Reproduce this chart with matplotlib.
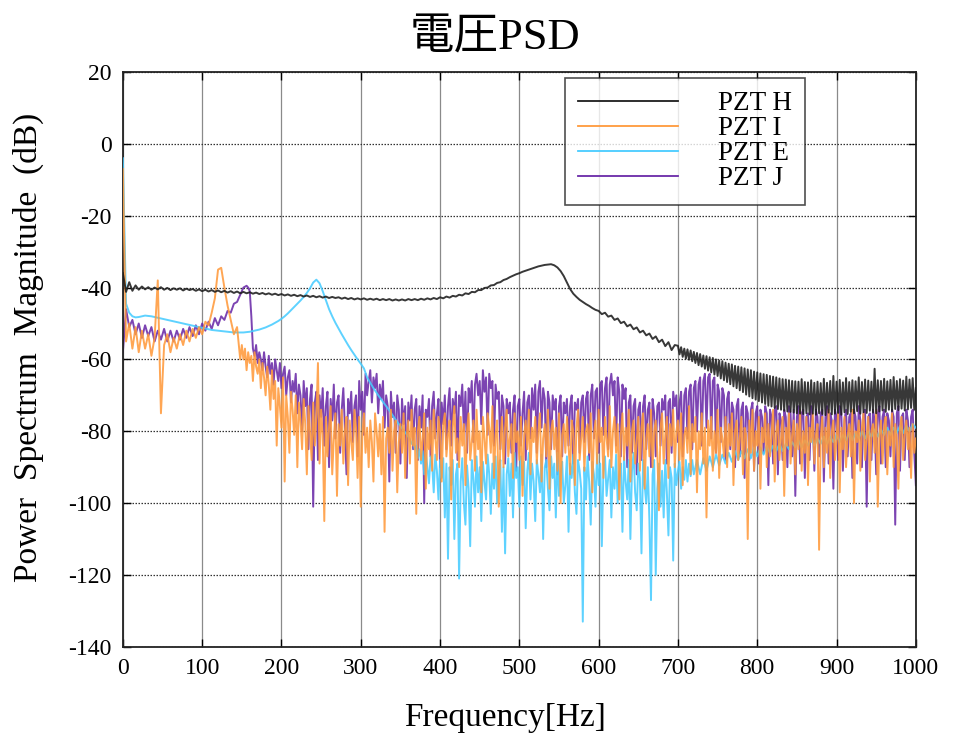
import numpy as np
import matplotlib
matplotlib.use("Agg")
import matplotlib.pyplot as plt

plt.rcParams['font.family'] = ['Liberation Serif', 'Noto Sans CJK JP', 'DejaVu Sans']
plt.rcParams['axes.unicode_minus'] = False

title = "電圧PSD"
xlabel = "Frequency[Hz]"
ylabel = "Power  Spectrum  Magnitude  (dB)"
labels = ["PZT H", "PZT I", "PZT E", "PZT J"]
xticks = [0, 100, 200, 300, 400, 500, 600, 700, 800, 900, 1000]
yticks = [-140, -120, -100, -80, -60, -40, -20, 0, 20]

# ---- PZT H : 0-696 Hz every 4 Hz, then 700-1000 Hz every 2 Hz (dB)
pzt_h_low = [
 -36.0, -41.2, -38.5, -40.9, -39.4, -40.6, -39.7, -40.5, -39.9, -40.6,
 -40.0, -40.5, -39.9, -40.6, -40.1, -40.7, -40.2, -40.6, -40.2, -40.8,
 -40.3, -40.7, -40.4, -40.9, -40.5, -41.0, -40.6, -41.1, -40.7, -41.2,
 -40.8, -41.3, -40.9, -41.4, -41.0, -41.5, -41.1, -41.6, -41.2, -41.6,
 -41.3, -41.7, -41.4, -41.8, -41.5, -41.9, -41.6, -42.0, -41.7, -42.1,
 -41.8, -42.2, -41.9, -42.3, -42.0, -42.4, -42.1, -42.5, -42.2, -42.6,
 -42.3, -42.7, -42.4, -42.8, -42.5, -42.9, -42.6, -42.9, -42.7, -43.1,
 -42.8, -43.2, -42.9, -43.3, -43.0, -43.3, -43.0, -43.4, -43.1, -43.4,
 -43.1, -43.5, -43.2, -43.5, -43.2, -43.6, -43.3, -43.6, -43.3, -43.6,
 -43.2, -43.5, -43.2, -43.5, -43.1, -43.4, -43.0, -43.3, -42.9, -43.2,
 -42.7, -43.0, -42.5, -42.8, -42.3, -42.5, -42.0, -42.2, -41.6, -41.8,
 -41.2, -41.3, -40.7, -40.7, -40.1, -40.0, -39.4, -39.3, -38.7, -38.5,
 -37.9, -37.6, -37.1, -36.7, -36.3, -36.0, -35.6, -35.3, -35.0, -34.7,
 -34.4, -34.1, -33.9, -33.7, -33.6, -33.5, -33.8, -34.4, -35.4, -36.8,
 -38.6, -40.4, -41.7, -42.6, -43.4, -44.0, -44.6, -45.1, -45.7, -46.2,
 -46.5, -47.4, -47.0, -48.1, -47.8, -49.0, -48.6, -49.9, -49.5, -50.8,
 -50.3, -51.6, -51.1, -52.5, -52.0, -53.3, -52.8, -54.3, -53.6, -55.2,
 -54.5, -56.3, -55.2, -57.4, -56.0,
]
pzt_h_high = [
 -56.2, -58.6, -56.6, -59.3, -57.0, -59.8, -57.2, -60.1, -57.5, -60.5,
 -57.9, -61.0, -58.2, -61.6, -58.5, -62.0, -58.9, -62.6, -59.1, -63.1,
 -59.4, -63.6, -59.6, -64.2, -60.0, -64.6, -60.3, -65.3, -60.5, -65.8,
 -60.9, -66.3, -61.2, -66.9, -61.4, -67.5, -61.8, -68.0, -62.0, -68.6,
 -62.2, -69.1, -62.5, -69.8, -62.8, -70.3, -63.0, -70.8, -63.4, -71.2,
 -63.6, -71.6, -63.9, -72.0, -64.1, -72.4, -64.3, -72.9, -64.6, -73.1,
 -64.8, -73.5, -65.0, -73.8, -65.3, -74.0, -65.5, -74.3, -65.6, -74.5,
 -65.8, -74.6, -66.0, -74.8, -66.1, -75.0, -66.2, -75.1, -65.5, -75.2,
 -66.3, -75.0, -66.4, -75.3, -65.8, -75.1, -66.5, -75.4, -66.2, -75.0,
 -66.6, -75.2, -65.4, -75.5, -66.5, -74.8, -66.0, -75.3, -64.6, -75.1,
 -66.2, -74.9, -65.7, -75.4, -66.4, -74.7, -65.2, -75.2, -66.3, -74.6,
 -65.8, -75.0, -66.1, -74.4, -65.0, -75.1, -66.3, -74.7, -65.6, -74.9,
 -65.9, -74.3, -66.2, -74.8, -62.6, -75.0, -65.8, -74.5, -66.0, -74.2,
 -65.4, -74.6, -66.1, -74.0, -65.7, -74.4, -64.9, -73.8, -66.0, -74.1,
 -65.5, -73.7, -65.9, -74.2, -64.8, -73.9, -65.6, -73.5, -65.2, -74.0,
 -68.0,
]

# ---- PZT I : 0-148 Hz every 4 Hz, then 150-1000 Hz every 2 Hz (dB)
pzt_i_low = [
 -7, -55, -50, -57, -51, -58, -52, -57, -53, -59,
 -54, -38, -75, -56, -53, -58, -54, -57, -53, -56,
 -52, -55, -51.5, -54, -51, -53, -49.5, -50.5, -47, -43,
 -35, -34.5, -40, -45, -49, -53, -51, -60,
]
pzt_i_high = [
 -56, -60, -57, -63, -58, -61, -59, -66, -58, -62,
 -64, -60, -68, -61, -65, -70, -62, -67, -74, -63,
 -71, -66, -84, -68, -73, -79, -65, -94, -70, -76,
 -86, -69, -74, -81, -70, -90, -72, -77, -85, -71,
 -78, -92, -73, -80, -88, -72, -84, -76, -61, -89,
 -74, -81, -105, -76, -87, -79, -73, -92, -82, -75,
 -98, -78, -84, -74, -89, -80, -76, -95, -77, -83,
 -88, -74, -79, -93, -76, -101, -81, -75, -86, -79,
 -90, -77, -83, -94, -75, -80, -87, -78, -92, -76,
 -108, -82, -79, -86, -74, -91, -80, -77, -97, -83,
 -78, -86, -75, -93, -81, -77, -89, -74, -84, -79,
 -103, -80, -76, -88, -82, -75, -96, -79, -85, -77,
 -91, -74, -82, -88, -76, -80, -94, -78, -75, -87,
 -81, -77, -99, -79, -73, -86, -82, -90, -76, -84,
 -78, -95, -80, -75, -88, -83, -77, -91, -74, -85,
 -80, -97, -76, -82, -89, -75, -79, -86, -73, -93,
 -81, -77, -101, -84, -76, -90, -79, -74, -87, -82,
 -78, -93, -75, -83, -80, -88, -76, -98, -81, -77,
 -85, -74, -92, -79, -83, -76, -89, -80, -75, -94,
 -82, -78, -87, -74, -96, -80, -77, -85, -79, -91,
 -75, -100, -81, -78, -86, -76, -84, -92, -77, -80,
 -95, -79, -74, -88, -82, -76, -91, -80, -78, -86,
 -75, -97, -81, -77, -89, -74, -83, -79, -93, -76,
 -82, -87, -73, -90, -80, -76, -86, -78, -99, -81,
 -75, -88, -79, -84, -74, -94, -80, -77, -89, -83,
 -76, -91, -79, -75, -96, -82, -78, -87, -74, -90,
 -80, -77, -86, -102, -79, -75, -89, -81, -76, -93,
 -78, -84, -74, -90, -80, -77, -88, -75, -95, -81,
 -79, -86, -73, -92, -78, -83, -76, -97, -80, -85,
 -75, -89, -79, -104, -77, -84, -76, -91, -80, -86,
 -74, -93, -79, -82, -87, -76, -90, -78, -84, -75,
 -95, -80, -77, -88, -82, -76, -92, -79, -81, -110,
 -77, -86, -74, -91, -80, -84, -76, -96, -79, -83,
 -75, -90, -78, -87, -81, -74, -94, -80, -77, -88,
 -82, -76, -98, -79, -84, -75, -89, -81, -77, -92,
 -78, -85, -74, -91, -80, -86, -76, -95, -79, -83,
 -75, -89, -81, -78, -113, -82, -76, -90, -79, -86,
 -74, -93, -80, -77, -88, -82, -75, -97, -79, -85,
 -76, -90, -81, -78, -87, -74, -100, -80, -83, -77,
 -91, -79, -75, -88, -82, -76, -94, -80, -78, -86,
 -74, -101, -81, -77, -89, -79, -76, -92, -80, -84,
 -75, -90, -78, -82, -96, -79, -76, -88, -81, -77,
 -85, -79, -93, -78, -86, -82,
]

# ---- PZT E : 0-360 Hz every 4 Hz, 362-720 Hz every 2 Hz, 724-1000 Hz every 4 Hz (dB)
pzt_e_low = [
 -4, -44.5, -47, -48, -48.3, -48.2, -48.0, -47.8, -47.9, -48.0,
 -48.2, -48.4, -48.6, -48.8, -49.0, -49.2, -49.4, -49.6, -49.8, -50.0,
 -50.2, -50.4, -50.6, -50.8, -51.0, -51.2, -51.4, -51.6, -51.8, -51.9,
 -52.0, -52.1, -52.2, -52.3, -52.4, -52.5, -52.5, -52.5, -52.5, -52.4,
 -52.3, -52.1, -51.9, -51.7, -51.4, -51.1, -50.7, -50.3, -49.8, -49.3,
 -48.7, -48.0, -47.2, -46.3, -45.4, -44.5, -43.6, -42.6, -41.5, -40.2,
 -38.6, -37.8, -38.8, -41.0, -43.5, -46.0, -48.0, -49.8, -51.4, -53.0,
 -54.5, -56.0, -57.4, -58.7, -60.0, -61.2, -62.5, -65.0, -66.5, -68.0,
 -69.3, -70.6, -71.8, -73.0, -74.2, -75.5, -76.8, -78.0, -79.2, -80.3,
 -81.5,
]
pzt_e_mid = [
 -82.2, -83.5, -82.8, -85.0, -84.0, -87.5, -85.0, -89.0, -85.5, -92.0,
 -86.0, -90.0, -94.5, -87.0, -89.0, -97.0, -86.5, -91.0, -99.0, -88.0,
 -93.0, -87.5, -104.0, -89.0, -115.5, -90.0, -95.0, -88.0, -110.0, -92.0,
 -89.0, -121.0, -94.0, -87.5, -100.0, -106.0, -89.5, -96.0, -112.0, -88.0,
 -93.0, -101.0, -87.0, -97.0, -90.0, -105.0, -88.5, -94.0, -99.0, -86.5,
 -92.0, -103.0, -89.0, -96.0, -87.0, -100.0, -91.0, -88.0, -108.0, -90.0,
 -114.0, -92.0, -87.5, -98.0, -89.0, -104.0, -86.0, -93.0, -90.0, -101.0,
 -87.0, -95.0, -88.5, -107.0, -91.0, -86.0, -99.0, -89.0, -94.0, -105.0,
 -88.0, -92.0, -97.0, -86.5, -110.0, -90.0, -88.0, -96.0, -102.0, -87.0,
 -93.0, -89.0, -104.0, -86.0, -98.0, -91.0, -88.5, -100.0, -95.0, -87.0,
 -108.0, -89.0, -93.0, -86.5, -97.0, -103.0, -88.0, -91.0, -96.0, -133.0,
 -90.0, -99.0, -87.0, -94.0, -106.0, -88.5, -92.0, -101.0, -86.0, -95.0,
 -89.0, -112.0, -91.0, -87.0, -98.0, -93.0, -88.0, -104.0, -90.0, -96.0,
 -86.5, -100.0, -92.0, -89.0, -108.0, -87.0, -94.0, -99.0, -88.0, -110.0,
 -91.0, -86.0, -97.0, -102.0, -89.0, -93.0, -114.0, -88.0, -95.0, -100.0,
 -90.0, -105.0, -127.0, -92.0, -88.0, -120.0, -96.0, -89.0, -101.0, -91.0,
 -104.0, -88.0, -97.0, -109.0, -90.0, -93.0, -116.0, -89.0, -95.0, -91.0,
 -88.5, -96.0, -90.0, -93.5, -88.0, -94.0, -89.0, -92.5, -88.0, -92.0,
]
pzt_e_high = [
 -88.0, -92.0, -87.5, -91.0, -87.0, -90.0, -86.5, -89.5, -86.5,
 -89.0, -86.0, -88.5, -85.5, -88.0, -85.5, -87.5, -85.0, -87.5, -84.5,
 -87.0, -84.5, -86.5, -84.0, -86.0, -84.0, -85.5, -83.5, -85.5, -83.5,
 -85.0, -83.0, -84.5, -82.5, -84.5, -82.5, -84.0, -82.0, -84.0, -82.0,
 -83.5, -81.5, -83.5, -81.5, -83.0, -81.0, -83.0, -81.0, -82.5, -80.5,
 -82.5, -80.5, -82.0, -80.0, -82.0, -80.0, -81.5, -79.5, -81.5, -79.5,
 -81.0, -79.0, -81.0, -79.0, -80.5, -78.5, -80.5, -78.5, -80.0, -78.0,
 -79.0,
]

# ---- PZT J : 0-156 Hz every 4 Hz, then 158-1000 Hz every 2 Hz (dB)
pzt_j_low = [
 -58, -46, -51, -49, -53, -50, -54, -50.5, -53.5, -51,
 -55, -52, -54.5, -51.5, -55, -52, -55, -52, -54.5, -51.5,
 -54, -51, -53.5, -50.5, -53, -50, -52, -49.5, -51.5, -48.5,
 -50.5, -48, -49, -46.5, -47, -44.5, -44, -42, -40, -39.5,
]
pzt_j_high = [
 -40, -41, -48, -57, -59, -56, -61, -58, -60, -63,
 -58, -62, -65, -59, -64, -61, -67, -60, -63, -66,
 -61, -68, -64, -62, -70, -65, -63, -72, -66, -69,
 -64, -75, -67, -70, -80, -66, -73, -68, -85, -71,
 -67, -101, -72, -69, -88, -70, -76, -68, -84, -73,
 -69, -90, -71, -77, -67, -82, -72, -70, -86, -74,
 -68, -79, -92, -71, -75, -69, -83, -73, -70, -87,
 -66, -74, -69, -81, -64, -70, -66, -63, -72, -65,
 -68, -64, -75, -67, -71, -66, -79, -70, -73, -94,
 -69, -76, -72, -86, -70, -74, -89, -71, -78, -73,
 -93, -72, -77, -70, -85, -74, -71, -88, -73, -79,
 -70, -100, -74, -76, -71, -87, -73, -69, -82, -75,
 -71, -90, -72, -78, -70, -85, -73, -68, -84, -71,
 -75, -69, -88, -70, -73, -67, -80, -69, -86, -68,
 -72, -66, -83, -67, -64, -70, -66, -78, -63, -69,
 -65, -81, -64, -68, -66, -84, -67, -71, -69, -85,
 -70, -73, -89, -71, -75, -72, -86, -74, -70, -91,
 -73, -71, -84, -75, -69, -88, -72, -70, -82, -68,
 -74, -67, -86, -69, -66, -79, -68, -71, -90, -69,
 -72, -85, -70, -74, -71, -92, -73, -70, -87, -72,
 -75, -71, -84, -73, -70, -89, -72, -74, -71, -86,
 -72, -70, -83, -71, -69, -88, -70, -67, -82, -69,
 -68, -86, -67, -66, -81, -68, -65, -85, -67, -64,
 -70, -66, -84, -65, -69, -87, -67, -71, -68, -90,
 -72, -70, -86, -73, -71, -92, -74, -72, -88, -73,
 -70, -85, -74, -72, -90, -71, -75, -87, -73, -72,
 -84, -71, -74, -70, -89, -72, -71, -86, -69, -73,
 -70, -83, -72, -69, -87, -70, -68, -82, -69, -67,
 -85, -68, -66, -80, -67, -65, -84, -66, -64, -79,
 -65, -64, -82, -66, -65, -86, -67, -69, -83, -68,
 -70, -88, -71, -69, -85, -72, -74, -90, -73, -71,
 -87, -74, -72, -93, -73, -75, -88, -74, -72, -91,
 -75, -73, -89, -74, -76, -86, -73, -75, -95, -74,
 -76, -89, -74, -73, -92, -75, -77, -88, -74, -76,
 -90, -73, -75, -87, -74, -98, -76, -73, -89, -75,
 -74, -93, -76, -75, -88, -73, -77, -91, -74, -76,
 -87, -75, -74, -94, -76, -73, -89, -75, -77, -96,
 -74, -76, -88, -73, -75, -91, -77, -74, -87, -76,
 -75, -93, -74, -76, -89, -73, -77, -90, -75, -74,
 -101, -76, -75, -88, -74, -77, -92, -75, -73, -89,
 -76, -74, -90, -75, -77, -87, -74, -76, -106, -75,
 -73, -91, -76, -75, -88, -74, -77, -90, -76, -74,
 -86, -95,
]


def seg(start, stop, vals):
    return np.linspace(start, stop, len(vals))


f_h = np.concatenate([seg(0, 696, pzt_h_low), seg(700, 1000, pzt_h_high)])
v_h = np.array(pzt_h_low + pzt_h_high)
f_i = np.concatenate([seg(0, 148, pzt_i_low), seg(150, 1000, pzt_i_high)])
v_i = np.array(pzt_i_low + pzt_i_high)
f_e = np.concatenate([seg(0, 360, pzt_e_low), seg(362, 720, pzt_e_mid),
                      seg(724, 1000, pzt_e_high)])
v_e = np.array(pzt_e_low + pzt_e_mid + pzt_e_high)
f_j = np.concatenate([seg(0, 156, pzt_j_low), seg(158, 1000, pzt_j_high)])
v_j = np.array(pzt_j_low + pzt_j_high)

series = [(f_h, v_h), (f_i, v_i), (f_e, v_e), (f_j, v_j)]
colors = ["#1c1c1c", "#ff9a3c", "#48ccff", "#6a2aa8"]
zorders = [5, 4, 3, 2]

fig = plt.figure(figsize=(9.6, 7.35), dpi=100)
ax = fig.add_axes([0.128, 0.120, 0.826, 0.782])

for (f, v), col, lab, z in zip(series, colors, labels, zorders):
    ax.plot(f, v, color=col, lw=1.4, label=lab, zorder=z, alpha=0.88)

ax.set_xlim(0, 1000)
ax.set_ylim(-140, 20)
ax.set_xticks(xticks)
ax.set_yticks(yticks)
ax.xaxis.grid(True, color="#8a8a8a", lw=0.9, ls="-", zorder=0)
ax.yaxis.grid(True, color="#333333", lw=0.9, ls=(0, (1.2, 1.2)), zorder=0)
ax.set_axisbelow(True)
ax.tick_params(direction="in", top=True, right=True, length=6, width=1,
               labelsize=17, pad=8)
for s in ax.spines.values():
    s.set_linewidth(1.3)
    s.set_color("#222222")

fig.text(0.516, 0.948, title, fontsize=32, ha="center", va="center")
fig.text(0.526, 0.024, xlabel, fontsize=24, ha="center", va="center")
fig.text(0.030, 0.527, ylabel, fontsize=24, ha="center", va="center",
         rotation=90)

leg = ax.legend(loc="upper left", bbox_to_anchor=(0.557, 0.99), fontsize=19.5,
                frameon=True, fancybox=False, edgecolor="#222222",
                handlelength=3.7, handletextpad=1.45, labelspacing=0.0,
                borderpad=0.5, borderaxespad=0)
leg.get_frame().set_linewidth(1.2)
for line in leg.get_lines():
    line.set_alpha(1.0)
    line.set_linewidth(1.3)

fig.savefig("out.png", dpi=100)
